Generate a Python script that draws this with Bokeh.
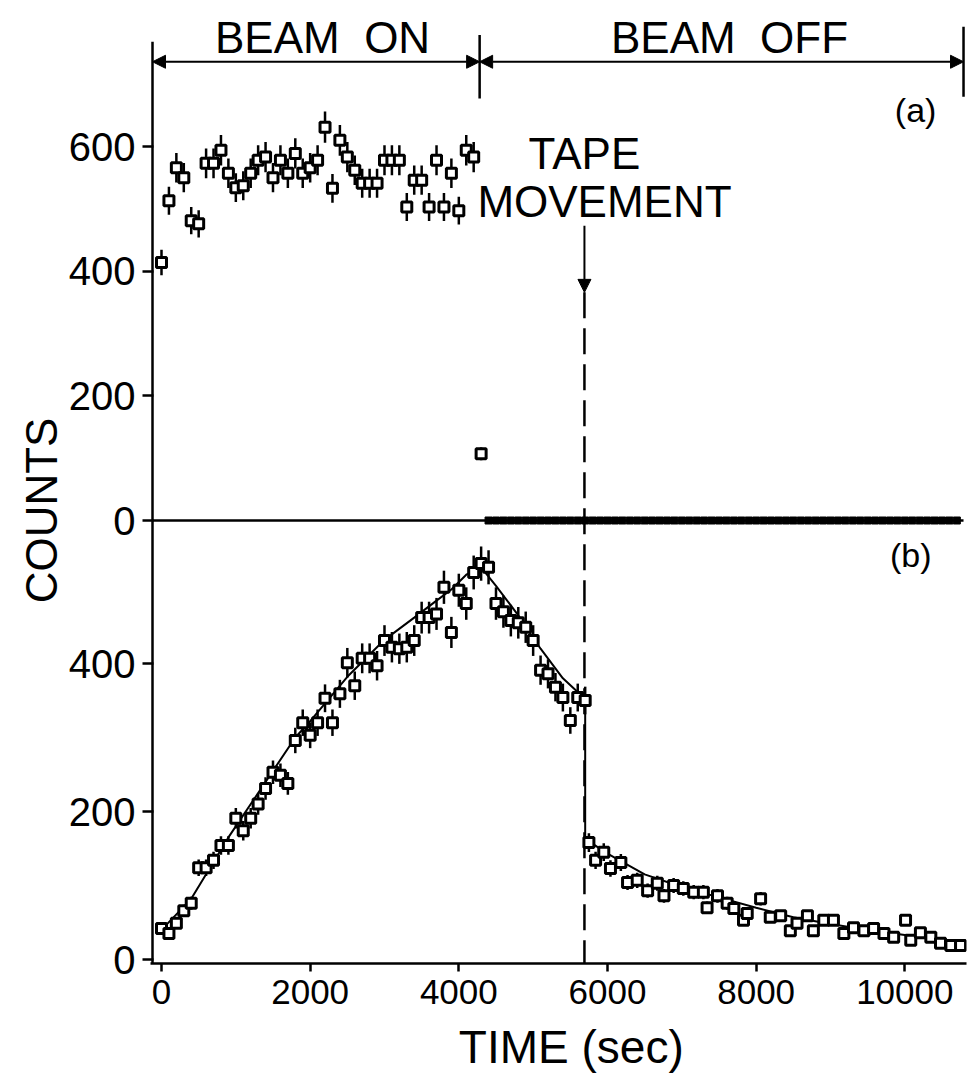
import numpy as np
from bokeh.plotting import figure
from bokeh.models import (Range1d, FixedTicker, CustomJSTickFormatter, Label,
                          Arrow, NormalHead, ColumnDataSource)
from bokeh.embed import file_html
from bokeh.resources import INLINE

# ---------------- data ----------------
# panel (a): counts during beam on
TOP_ON_T = [0, 100, 200, 300, 400, 500, 600, 700, 800, 900, 1000, 1100, 1200, 1300,
            1400, 1500, 1600, 1700, 1800, 1900, 2000, 2100, 2200, 2300, 2400, 2500,
            2600, 2700, 2800, 2900, 3000, 3100, 3200, 3300, 3400, 3500, 3600, 3700,
            3800, 3900, 4000, 4100, 4200, 4300]
TOP_ON_COUNTS = [414, 513, 566, 550, 481, 476, 573, 573, 594, 557, 534, 537, 557, 578,
                 583, 550, 578, 557, 589, 557, 566, 578, 631, 533, 610, 583, 562, 541,
                 541, 541, 578, 578, 578, 503, 546, 546, 503, 578, 503, 557, 497, 594,
                 583, 107]
# panel (a): counts after beam off (all at zero)
TOP_OFF_T = [4400, 4500, 4600, 4700, 4800, 4900, 5000, 5100, 5200, 5300, 5400, 5500,
             5600, 5700, 5800, 5900, 6000, 6100, 6200, 6300, 6400, 6500, 6600, 6700,
             6800, 6900, 7000, 7100, 7200, 7300, 7400, 7500, 7600, 7700, 7800, 7900,
             8000, 8100, 8200, 8300, 8400, 8500, 8600, 8700, 8800, 8900, 9000, 9100,
             9200, 9300, 9400, 9500, 9600, 9700, 9800, 9900, 10000, 10100, 10200,
             10300, 10400, 10500, 10600, 10700]
TOP_OFF_COUNTS = [0, 0, 0, 0, 0, 0, 0, 0, 0, 0, 0, 0, 0, 0, 0, 0, 0, 0, 0, 0, 0, 0,
                  0, 0, 0, 0, 0, 0, 0, 0, 0, 0, 0, 0, 0, 0, 0, 0, 0, 0, 0, 0, 0, 0,
                  0, 0, 0, 0, 0, 0, 0, 0, 0, 0, 0, 0, 0, 0, 0, 0, 0, 0, 0, 0]

# panel (b): build-up and decay
BOT_ON_T = [0, 100, 200, 300, 400, 500, 600, 700, 800, 900, 1000, 1100, 1200, 1300,
            1400, 1500, 1600, 1700, 1800, 1900, 2000, 2100, 2200, 2300, 2400, 2500,
            2600, 2700, 2800, 2900, 3000, 3100, 3200, 3300, 3400, 3500, 3600, 3700,
            3800, 3900, 4000, 4100, 4200, 4300, 4400, 4500, 4600, 4700, 4800, 4900,
            5000, 5100, 5200, 5300, 5400, 5500, 5600, 5700]
BOT_ON_COUNTS = [42, 35, 49, 66, 76, 124, 124, 134, 154, 154, 191, 174, 191, 210,
                 231, 253, 249, 238, 296, 320, 303, 320, 353, 320, 359, 401,
                 370, 407, 407, 397, 431, 422, 420, 422, 431, 462, 462, 467,
                 503, 442, 499, 481, 523, 535, 530, 481, 470, 458, 455, 449,
                 431, 391, 386, 368, 354, 323, 354, 350]
BOT_OFF_T = [5750, 5840, 5950, 6040, 6180, 6270, 6400, 6540, 6670, 6760, 6890, 7020,
             7160, 7290, 7340, 7480, 7610, 7700, 7830, 7880, 8060, 8190, 8330, 8460,
             8550, 8690, 8770, 8910, 9040, 9180, 9310, 9450, 9580, 9720, 9850, 10010,
             10080, 10210, 10350, 10480, 10620, 10750]
BOT_OFF_COUNTS = [158, 134, 145, 123, 131, 104, 107, 93, 103, 86, 100, 96,
                  91, 91, 70, 86, 76, 69, 53, 62, 82, 57, 59, 39,
                  49, 59, 39, 53, 53, 35, 43, 39, 42, 35, 30, 53,
                  26, 36, 30, 22, 19, 19]
# fitted curve in panel (b)
FIT_T = [0, 400, 900, 1400, 1800, 2000, 2500, 3000, 3400, 3700, 3900, 4100, 4300,
         4500, 4800, 5100, 5400, 5700, 5700, 6000, 6500, 7000, 7500, 8000, 8500,
         9000, 9500, 10000, 10500, 10750]
FIT_COUNTS = [40, 82, 165, 240, 300, 322, 382, 432, 462, 485, 500, 520, 530,
              505, 465, 420, 380, 352, 163, 143, 115, 98, 84, 70, 57,
              48, 40, 33, 26, 22]

X_TICKS = [0, 2000, 4000, 6000, 8000, 10000]
TOP_TICKS = [0, 200, 400, 600]
BOT_TICKS = [0, 200, 400]

BEAM_OFF_T = 4280      # end of irradiation
TAPE_T = 5690          # tape movement
END_T = 10790          # end of measurement

# ---------------- layout ----------------
FONT = "Liberation Sans"
NB = "\u00a0"

X0, X1 = -148, 10830
BOT = (-5.4, -5.4 + 955 / 0.74)           # panel (b) scale
TOP = (-443 / 0.6233, 512 / 0.6233)       # panel (a) scale
AXIS_X = -121

p = figure(frame_width=816, frame_height=955,
           x_range=Range1d(X0, X1), y_range=Range1d(*BOT),
           output_backend="svg", toolbar_location=None,
           min_border_left=150, min_border_right=8, min_border_top=8,
           min_border_bottom=120, outline_line_color=None,
           background_fill_color="white", border_fill_color="white")
p.extra_y_ranges = {"top": Range1d(*TOP)}
p.xgrid.visible = False
p.ygrid.visible = False

# x axis
xa = p.xaxis[0]
xa.ticker = FixedTicker(ticks=X_TICKS)
xa.minor_tick_line_color = None
xa.major_tick_out = 8
xa.major_tick_in = 0
xa.major_tick_line_width = 2.5
xa.axis_line_width = 2.5
xa.major_label_standoff = 8
xa.major_label_text_font = FONT
xa.major_label_text_font_size = "35px"
xa.major_label_text_color = "black"
xa.axis_label = NB + NB + "TIME (sec)"
xa.axis_label_standoff = 14
xa.axis_label_text_font = FONT
xa.axis_label_text_font_size = "46px"
xa.axis_label_text_font_style = "normal"
xa.axis_label_text_color = "black"

# left axis: one axis carrying both panels' ticks
def to_bot(v):
    return BOT[0] + (v - TOP[0]) * (BOT[1] - BOT[0]) / (TOP[1] - TOP[0])

tick_pos = [float(v) for v in BOT_TICKS] + [to_bot(v) for v in TOP_TICKS]
tick_lab = [str(v) for v in BOT_TICKS] + [str(v) for v in TOP_TICKS]
ya = p.yaxis[0]
ya.ticker = FixedTicker(ticks=tick_pos)
ya.formatter = CustomJSTickFormatter(args=dict(pos=tick_pos, lab=tick_lab), code="""
for (let i = 0; i < pos.length; i++) {
  if (Math.abs(pos[i] - tick) < 1e-3) { return lab[i]; }
}
return '';
""")
ya.minor_tick_line_color = None
ya.axis_line_color = None
ya.major_tick_out = 8
ya.major_tick_in = 3
ya.major_tick_line_width = 2.5
ya.major_label_standoff = 7
ya.major_label_text_font = FONT
ya.major_label_text_font_size = "40px"
ya.major_label_text_color = "black"
ya.axis_label = "COUNTS" + NB * 4
ya.axis_label_standoff = 0
ya.axis_label_text_font = FONT
ya.axis_label_text_font_size = "44px"
ya.axis_label_text_font_style = "normal"
ya.axis_label_text_color = "black"

# axis line, zero line of panel (a)
p.segment(x0=[AXIS_X], y0=[768], x1=[AXIS_X], y1=[TOP[0]], y_range_name="top",
          line_color="black", line_width=2.5)
p.segment(x0=[AXIS_X], y0=[0], x1=[END_T], y1=[0], y_range_name="top",
          line_color="black", line_width=2.5)

# beam on / off arrows
for xs, xe in [(AXIS_X, BEAM_OFF_T), (BEAM_OFF_T, END_T)]:
    p.add_layout(Arrow(x_start=xs, y_start=736, x_end=xe, y_end=736,
                       y_range_name="top", line_width=2,
                       start=NormalHead(size=13, fill_color="black", line_color="black"),
                       end=NormalHead(size=13, fill_color="black", line_color="black")))
p.segment(x0=[BEAM_OFF_T, END_T], y0=[779, 792], x1=[BEAM_OFF_T, END_T], y1=[677, 680],
          y_range_name="top", line_color="black", line_width=2.5)

# tape movement arrow and dashed line
p.add_layout(Arrow(x_start=TAPE_T, y_start=473, x_end=TAPE_T, y_end=366,
                   y_range_name="top", line_width=2,
                   end=NormalHead(size=13, fill_color="black", line_color="black")))
p.segment(x0=[TAPE_T], y0=[366], x1=[TAPE_T], y1=[TOP[0]], y_range_name="top",
          line_color="black", line_width=2.5, line_dash="26 10")

# fitted curve (b)
p.line(FIT_T, FIT_COUNTS, line_color="black", line_width=2)

# data points with Poisson error bars
def points(t, c, rng):
    t = np.asarray(t, float)
    c = np.asarray(c, float)
    e = np.sqrt(c)
    src = ColumnDataSource(dict(t=t, c=c, lo=c - e, hi=c + e))
    kw = {} if rng is None else {"y_range_name": rng}
    p.segment(x0="t", y0="lo", x1="t", y1="hi", source=src, line_color="black",
              line_width=2.5, **kw)
    p.scatter(x="t", y="c", source=src, marker="square", size=10,
              fill_color="white", line_color="black", line_width=3, **kw)

points(TOP_ON_T, TOP_ON_COUNTS, "top")
points(BOT_ON_T, BOT_ON_COUNTS, None)
points(BOT_OFF_T, BOT_OFF_COUNTS, None)
p.scatter(TOP_OFF_T, TOP_OFF_COUNTS, y_range_name="top", marker="square", size=7,
          fill_color="black", line_color="black")

# texts inside the frame
def lab(text, x, y, size, rng="top", base="alphabetic"):
    kw = {} if rng is None else {"y_range_name": rng}
    p.add_layout(Label(x=x, y=y, text=text, text_font=FONT, text_font_size=size,
                       text_align="center", text_baseline=base,
                       text_color="black", **kw))

lab("BEAM" + NB + NB + "ON", 2167, 775, "44px")
lab("BEAM" + NB + NB + "OFF", 7642, 775, "44px")
lab("TAPE", 5690, 589, "44px")
lab("MOVEMENT", 5960, 512, "44px")
lab("(a)", 10145, 658, "34px", base="middle")
lab("(b)", 10080, -56, "34px", base="middle")

open("out.html", "w").write(file_html(p, INLINE))
